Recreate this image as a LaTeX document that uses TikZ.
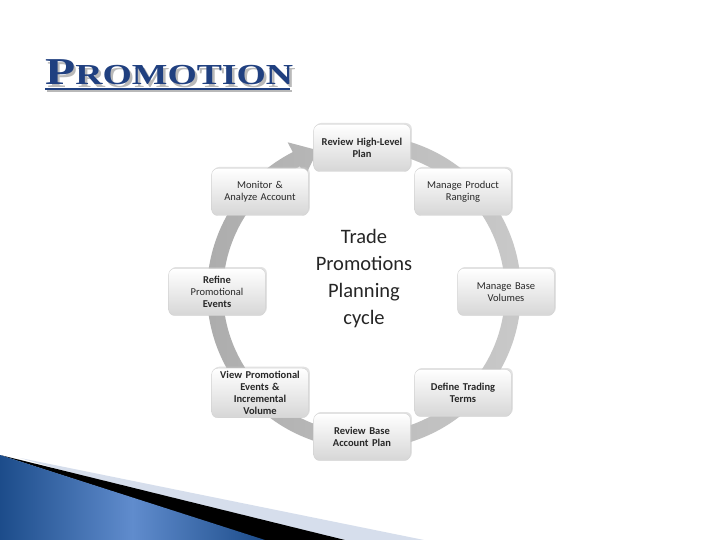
\documentclass[tikz,border=0pt]{standalone}
\usepackage{fontspec}
\setmainfont{Carlito}
\newfontfamily\titlefont{Liberation Serif}
\usetikzlibrary{shadows}
\definecolor{titleblue}{RGB}{32,64,128}
\definecolor{boxtext}{RGB}{40,40,40}
\definecolor{bandlight}{RGB}{214,222,236}
\definecolor{bluedark}{RGB}{28,76,138}
\definecolor{bluelight}{RGB}{96,140,205}
\newcommand{\titleword}{\titlefont\bfseries\scalebox{1.3}[1]{\fontsize{38}{38}\selectfont P\fontsize{29}{29}\selectfont ROMOTION}}
\tikzset{
  stepbox/.style={draw=gray!35, rounded corners=6pt, minimum width=92pt, minimum height=47pt,
    top color=white, bottom color=gray!32, align=center, text width=90pt,
    font=\fontsize{10.5}{11.8}\selectfont, text=boxtext,
    drop shadow={shadow xshift=1.5pt, shadow yshift=1.5pt, fill=gray!45, opacity=0.5}},
  centertext/.style={align=center, font=\fontsize{20.5}{27}\selectfont, text=black!85}
}
\begin{document}
\begin{tikzpicture}[x=1pt,y=-1pt]
\useasboundingbox (0,0) rectangle (720,540);
\fill[white] (0,0) rectangle (720,540);
% bottom-left decoration
\fill[bandlight] (20,458) -- (424,540) -- (300,540) -- cycle;
\fill[black] (0,455) -- (345,540) -- (262,540) -- cycle;
\shade[left color=bluedark, right color=bluedark, middle color=bluelight]
  (0,455) -- (265,540) -- (0,540) -- cycle;
% title with shadow
\node[anchor=base west, text=titleblue, inner sep=0pt] (title) at (45,85)
  {\makebox[0pt][l]{\hspace{2.5pt}\raisebox{-2.5pt}{\color{gray!55}\titleword}}\titleword};
\fill[gray!55] (47,90) rectangle (292,92.5);
\fill[titleblue] (45,88) rectangle (290,90.5);
% ring
\begin{scope}[shift={(364,292)}, y=1pt]
\shade[left color=gray!65, right color=gray!42]
  (85:157) arc[start angle=85, end angle=-243, radius=157]
  -- (-243:168) -- (-252:149) -- (-243:130) -- (-243:141)
  arc[start angle=-243, end angle=85, radius=141] -- cycle;
\end{scope}
% center text
\node[centertext] (center) at (364,279) {Trade\\Promotions\\Planning\\cycle};
% boxes
\node[stepbox] (b1) at (362,148) {\bfseries Review High-Level\\Plan};
\node[stepbox] (b2) at (463,192) {Manage Product\\Ranging};
\node[stepbox] (b3) at (506,292) {Manage Base\\Volumes};
\node[stepbox] (b4) at (463,393) {\bfseries Define Trading\\Terms};
\node[stepbox] (b5) at (362,437) {\bfseries Review Base\\Account Plan};
\node[stepbox] (b6) at (260,393) {\bfseries View Promotional\\Events \&\\Incremental\\Volume};
\node[stepbox] (b7) at (217,292) {\textbf{Refine}\\Promotional\\\textbf{Events}};
\node[stepbox] (b8) at (260,192) {Monitor \&\\Analyze Account};
\end{tikzpicture}
\end{document}
